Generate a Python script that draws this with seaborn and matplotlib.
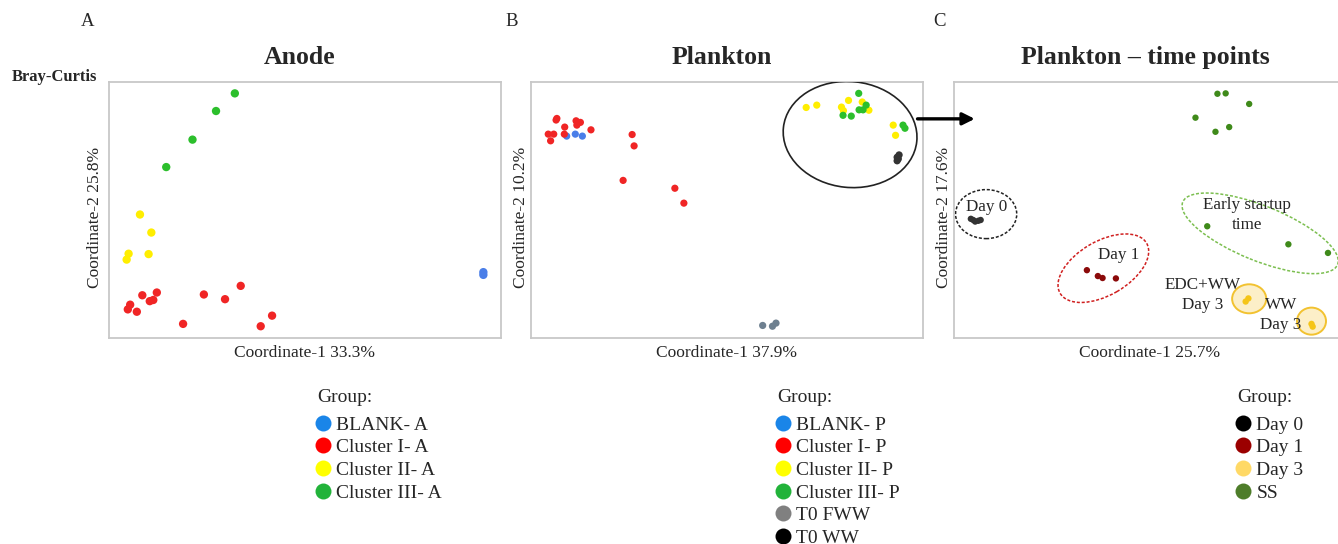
import numpy as np
import pandas as pd
import matplotlib
matplotlib.use("Agg")
import matplotlib.pyplot as plt
from matplotlib.patches import Ellipse, ConnectionPatch
from matplotlib.lines import Line2D
import seaborn as sns

sns.set_style("white")
plt.rcParams["font.family"] = ["Liberation Serif", "DejaVu Serif"]

# ---- Panel A: anode communities (PCoA scores, scaled) ----
anode_group = (["BLANK- A"] * 2 + ["Cluster I- A"] * 13 + ["Cluster II- A"] * 5
               + ["Cluster III- A"] * 4)
anode_x = [95.5, 95.5,
           12.2, 8.5, 11.3, 10.4, 5.4, 4.8, 7.1, 24.2, 29.6, 33.6, 18.9, 38.7, 41.6,
           7.9, 10.8, 5.0, 4.5, 10.1,
           32.1, 27.3, 21.3, 14.6]
anode_y = [16.8, 16.1,
           11.6, 10.9, 9.7, 9.4, 8.5, 7.3, 6.7, 11.1, 9.9, 13.3, 3.6, 3.0, 5.7,
           31.5, 26.9, 21.5, 20.0, 21.4,
           62.4, 57.9, 50.6, 43.6]

# ---- Panel B: plankton communities ----
plank_group = (["BLANK- P"] * 3 + ["Cluster I- P"] * 16 + ["Cluster II- P"] * 9
               + ["Cluster III- P"] * 8 + ["T0 FWW"] * 3 + ["T0 WW"] * 4)
plank_x = [9.1, 11.3, 13.1,
           6.4, 6.6, 8.6, 11.5, 12.6, 11.7, 15.3, 4.4, 5.8, 5.0, 8.5, 25.8, 26.3, 23.5, 36.7, 39.0,
           70.2, 72.9, 79.2, 79.7, 81.0, 84.5, 86.2, 92.4, 93.0,
           83.6, 85.5, 83.7, 84.7, 79.6, 81.7, 94.9, 95.4,
           59.1, 61.6, 62.5,
           93.4, 93.9, 93.4, 93.7]
plank_y = [51.5, 52.0, 51.5,
           55.6, 56.0, 53.8, 55.4, 55.0, 54.3, 53.1, 52.0, 52.0, 50.3, 52.0, 51.9, 49.0, 40.2, 38.2, 34.4,
           58.8, 59.4, 58.9, 58.0, 60.6, 60.2, 58.1, 54.3, 51.7,
           62.4, 59.4, 58.2, 58.2, 56.8, 56.6, 54.3, 53.5,
           3.2, 3.0, 3.8,
           46.1, 46.7, 45.2, 45.7]

# ---- Panel C: plankton time points ----
time_group = ["Day 0"] * 5 + ["Day 1"] * 4 + ["Day 3"] * 4 + ["SS"] * 9
time_x = [4.3, 4.9, 5.4, 6.2, 6.8,
          33.9, 36.7, 37.9, 41.3,
          74.4, 75.1, 91.2, 91.5,
          67.2, 69.3, 75.3, 61.6, 66.7, 70.2, 64.6, 85.3, 95.4]
time_y = [30.4, 30.1, 29.7, 29.9, 30.1,
          17.3, 15.8, 15.3, 15.2,
          9.3, 10.1, 3.6, 2.9,
          62.3, 62.4, 59.7, 56.2, 52.6, 53.8, 28.5, 23.9, 21.7]

axis_pct = {"A": ("33.3%", "25.8%"), "B": ("37.9%", "10.2%"), "C": ("25.7%", "17.6%")}
titles = {"A": "Anode", "B": "Plankton", "C": "Plankton – time points"}

point_colors = {
    "BLANK- A": "#4a7ee8", "Cluster I- A": "#f02525", "Cluster II- A": "#ffee00",
    "Cluster III- A": "#2cbf2c",
    "BLANK- P": "#4a7ee8", "Cluster I- P": "#f02525", "Cluster II- P": "#ffee00",
    "Cluster III- P": "#2cbf2c", "T0 FWW": "#6e8090", "T0 WW": "#333333",
    "Day 0": "#333333", "Day 1": "#8b0a0a", "Day 3": "#f5c518", "SS": "#3f8a1a",
}
legend_colors = {
    "BLANK- A": "#1a85e8", "Cluster I- A": "#ff0000", "Cluster II- A": "#ffff00",
    "Cluster III- A": "#22b33a",
    "BLANK- P": "#1a85e8", "Cluster I- P": "#ff0000", "Cluster II- P": "#ffff00",
    "Cluster III- P": "#22b33a", "T0 FWW": "#808080", "T0 WW": "#000000",
    "Day 0": "#000000", "Day 1": "#9b0000", "Day 3": "#ffd966", "SS": "#4e7d2a",
}

W, H = 1338, 544
fig = plt.figure(figsize=(W / 100, H / 100), dpi=100)

def make_axes(left_px):
    return fig.add_axes([left_px / W, (H - 338) / H, 392 / W, 256 / H])

ax_a = make_axes(109)
ax_b = make_axes(531)
ax_c = make_axes(954)

panels = [
    (ax_a, "A", anode_x, anode_y, anode_group, 36, -0.015),
    (ax_b, "B", plank_x, plank_y, plank_group, 27, -0.004),
    (ax_c, "C", time_x, time_y, time_group, 21, -0.004),
]

for ax, key, xs, ys, groups, size, ylab_x in panels:
    df = pd.DataFrame({"Coordinate-1": xs, "Coordinate-2": ys, "Group": groups})
    sns.scatterplot(data=df, x="Coordinate-1", y="Coordinate-2", hue="Group",
                    palette={g: point_colors[g] for g in dict.fromkeys(groups)},
                    s=size, linewidth=0, legend=False, ax=ax, zorder=3)
    ax.set_xlim(0, 100)
    ax.set_ylim(0, 65.3)
    ax.set_xticks([])
    ax.set_yticks([])
    for sp in ax.spines.values():
        sp.set_color("#c8c8c8")
        sp.set_linewidth(1.3)
    ax.set_xlabel(f"Coordinate-1 {axis_pct[key][0]}", fontsize=12.5, labelpad=5)
    ax.set_ylabel(f"Coordinate-2 {axis_pct[key][1]}", fontsize=12.5)
    ax.yaxis.set_label_coords(ylab_x, 0.47)
    ax.set_title(titles[key], fontsize=18.5, fontweight="bold", pad=13, x=0.487)

# panel letters and distance label
for letter, xp in [("A", 88), ("B", 512), ("C", 940)]:
    fig.text(xp / W, 1 - 22 / H, letter, fontsize=13.5, ha="center", va="center")
fig.text(12 / W, 1 - 77 / H, "Bray-Curtis", fontsize=12, fontweight="bold",
         ha="left", va="center")

# circled sub-cluster in panel B and arrow to panel C
ax_b.add_patch(Ellipse((81.4, 51.9), 34.2, 27.0, angle=-6, fill=False,
                       edgecolor="#222222", linewidth=1.2, zorder=4))
arrow = ConnectionPatch(xyA=(98.6, 55.9), coordsA=ax_b.transData,
                        xyB=(5.3, 55.9), coordsB=ax_c.transData,
                        arrowstyle="-|>", color="black", lw=2.4,
                        mutation_scale=18, shrinkA=0, shrinkB=0, zorder=10)
fig.add_artist(arrow)

# grouping ellipses in panel C
ax_c.add_patch(Ellipse((8.2, 31.6), 15.6, 12.5, fill=False, edgecolor="#222222",
                       linestyle=(0, (2, 1.2)), linewidth=1.1, zorder=2))
ax_c.add_patch(Ellipse((38.1, 17.8), 25.5, 13.8, angle=30, fill=False,
                       edgecolor="#d02020", linestyle=(0, (2, 1.2)), linewidth=1.1, zorder=2))
ax_c.add_patch(Ellipse((78.1, 26.7), 42.6, 14.0, angle=-22, fill=False,
                       edgecolor="#7cbf50", linestyle=(0, (2, 1.2)), linewidth=1.1, zorder=2))
for center, w, h in [((75.3, 10.0), 8.7, 7.4), ((91.2, 4.3), 7.4, 6.9)]:
    ax_c.add_patch(Ellipse(center, w, h, facecolor="#fcefc8", edgecolor="#f2c230",
                           linewidth=1.4, zorder=2))

ann_fs = 12.3
ax_c.text(8.4, 33.3, "Day 0", fontsize=ann_fs, ha="center", va="center", zorder=5)
ax_c.text(42.1, 21.2, "Day 1", fontsize=ann_fs, ha="center", va="center", zorder=5)
ax_c.text(74.7, 31.4, "Early startup\ntime", fontsize=ann_fs, ha="center", va="center",
          linespacing=1.3, zorder=5)
ax_c.text(63.3, 11.0, "EDC+WW\nDay 3", fontsize=ann_fs, ha="center", va="center",
          linespacing=1.3, zorder=5)
ax_c.text(83.4, 5.9, "WW\nDay 3", fontsize=ann_fs, ha="center", va="center",
          linespacing=1.3, zorder=5)

# group legends under each panel
def add_legend(groups, title_x_px, x_px):
    fig.text(title_x_px / W, 1 - 397 / H, "Group:", fontsize=14,
             ha="left", va="center")
    handles = [Line2D([], [], marker="o", linestyle="none", markersize=11.5,
                      markerfacecolor=legend_colors[g], markeredgewidth=0, label=g)
               for g in dict.fromkeys(groups)]
    fig.legend(handles=handles, loc="upper left",
               bbox_to_anchor=(x_px / W, 1 - 416 / H), frameon=False,
               fontsize=14, handletextpad=0.25, labelspacing=0.26,
               borderaxespad=0, borderpad=0, handlelength=0.85)

add_legend(anode_group, 317, 315)
add_legend(plank_group, 777, 775)
add_legend(time_group, 1237, 1235)

fig.savefig("out.png", dpi=100)
